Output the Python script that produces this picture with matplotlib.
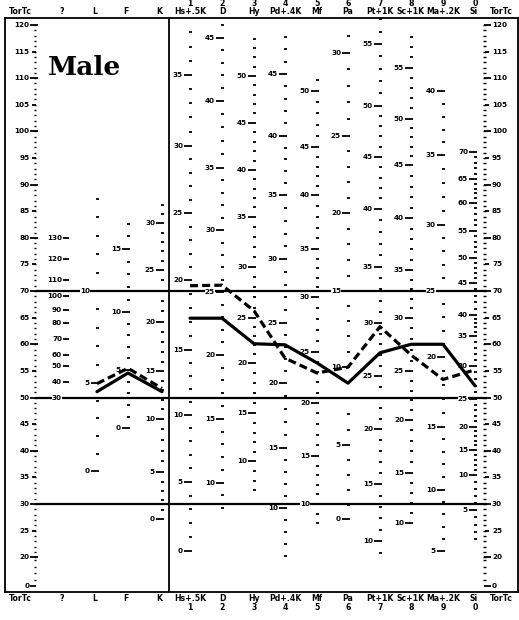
import numpy as np
import matplotlib.pyplot as plt

# scale names
validity = ["L", "F", "K"]
clinical = ["Hs+.5K", "D", "Hy", "Pd+.4K", "Mf", "Pa", "Pt+1K", "Sc+1K", "Ma+.2K", "Si"]
clinical_num = ["1", "2", "3", "4", "5", "6", "7", "8", "9", "0"]

# profile T scores
solid_validity = [51.1, 54.6, 51.1]
dashed_validity = [52.6, 55.5, 51.7]
solid_clinical = [64.9, 64.9, 60.1, 59.9, 56.5, 52.7, 58.4, 60.0, 60.0, 52.2]
dashed_clinical = [71.0, 71.1, 66.3, 57.4, 54.6, 55.7, 63.3, 58.0, 53.4, 55.2]

# raw score labels and the T score where each sits on the form
q_raw = [30, 40, 50, 60, 70, 80, 90, 100, 110, 120, 130]
q_t = [50, 53, 56, 58, 61, 64, 66.5, 69, 72, 76, 80]
l_raw = [0, 5, 10]
l_t = [36.1, 52.7, 70]
f_raw = [0, 5, 10, 15]
f_t = [44.2, 55.2, 66, 77.9]
k_raw = [0, 5, 10, 15, 20, 25, 30]
k_t = [27.1, 36, 46, 54.9, 64.2, 74, 82.7]
hs_raw = [0, 5, 10, 15, 20, 25, 30, 35]
hs_t = [21.1, 34.2, 46.8, 59, 72, 84.6, 97.3, 110.6]
d_raw = [10, 15, 20, 25, 30, 35, 40, 45]
d_t = [34, 46, 58, 69.8, 81.4, 93.2, 105.8, 117.6]
hy_raw = [10, 15, 20, 25, 30, 35, 40, 45, 50]
hy_t = [38, 47, 56.5, 65, 74.5, 84, 92.7, 101.6, 110.4]
pd_raw = [10, 15, 20, 25, 30, 35, 40, 45]
pd_t = [29.2, 40.5, 52.8, 64, 76, 88, 99.2, 110.8]
mf_raw = [10, 15, 20, 25, 30, 35, 40, 45, 50]
mf_t = [30, 39, 49, 58.6, 68.9, 77.9, 88, 97, 107.6]
pa_raw = [0, 5, 10, 15, 20, 25, 30]
pa_t = [27.1, 41, 55.8, 70, 84.6, 99.2, 114.8]
pt_raw = [10, 15, 20, 25, 30, 35, 40, 45, 50, 55]
pt_t = [23, 33.7, 44, 54, 64, 74.5, 85.5, 95.2, 104.8, 116.4]
sc_raw = [10, 15, 20, 25, 30, 35, 40, 45, 50, 55]
sc_t = [26.5, 35.9, 45.8, 54.9, 65, 73.9, 83.7, 93.6, 102.4, 112]
ma_raw = [5, 10, 15, 20, 25, 30, 35, 40]
ma_t = [21.1, 32.7, 44.5, 57.6, 70, 82.4, 95.5, 107.6]
si_raw = [5, 10, 15, 20, 25, 30, 35, 40, 45, 50, 55, 60, 65, 70]
si_t = [28.8, 35.5, 40.2, 44.5, 49.7, 56, 61.6, 65.5, 71.5, 76.3, 81.3, 86.6, 91, 96.2]

W, H = 519, 620
fig = plt.figure(figsize=(W / 100, H / 100), dpi=100)
ax = fig.add_axes([5 / W, 28 / H, 513 / W, 574 / H])
ax.set_xlim(5, 518)
ax.set_ylim(13.46, 121.3)
ax.set_xticks([])
ax.set_yticks([])
for s in ax.spines.values():
    s.set_linewidth(1.3)

FS = 5.2
lab = dict(fontsize=FS, weight="bold", family="DejaVu Sans Condensed",
           bbox=dict(facecolor="white", edgecolor="none", pad=0.2), zorder=3)

# column positions (x of tick marks)
val_x = [97, 128, 162]
cli_x = [190, 222, 254, 285, 317, 348, 380, 411, 443, 475]
q_x = 69

columns = [
    (97, l_raw, l_t, 0, 15),
    (128, f_raw, f_t, 0, 17),
    (162, k_raw, k_t, 0, 32),
    (190, hs_raw, hs_t, 0, 38),
    (222, d_raw, d_t, 8, 47),
    (254, hy_raw, hy_t, 7, 54),
    (285, pd_raw, pd_t, 6, 48),
    (317, mf_raw, mf_t, 8, 51),
    (348, pa_raw, pa_t, 0, 31),
    (380, pt_raw, pt_t, 9, 57),
    (411, sc_raw, sc_t, 10, 58),
    (443, ma_raw, ma_t, 5, 40),
    (475, si_raw, si_t, 1, 70),
]


def raw_to_t(r, raws, ts):
    raws = np.asarray(raws, float)
    ts = np.asarray(ts, float)
    out = np.interp(r, raws, ts)
    lo = (ts[1] - ts[0]) / (raws[1] - raws[0])
    hi = (ts[-1] - ts[-2]) / (raws[-1] - raws[-2])
    out = np.where(r < raws[0], ts[0] + (r - raws[0]) * lo, out)
    out = np.where(r > raws[-1], ts[-1] + (r - raws[-1]) * hi, out)
    return out


for x, raws, ts, lo, hi in columns:
    r = np.arange(lo, hi + 1)
    r = r[~np.isin(r, raws)]
    tt = raw_to_t(r, raws, ts)
    ax.hlines(tt, x - 1.5, x + 1.5, color="k", lw=1.3, zorder=2)
    for rv, tv in zip(raws, ts):
        ax.hlines(tv, x - 6, x + 1.5, color="k", lw=1.3, zorder=2)
        ax.text(x - 7, tv, str(rv), ha="right", va="center", **lab)

for rv, tv in zip(q_raw, q_t):
    ax.hlines(tv, q_x - 6, q_x, color="k", lw=1.3, zorder=2)
    ax.text(q_x - 7, tv, str(rv), ha="right", va="center", **lab)

# T score axes on both sides
t_minor = np.arange(20, 121)
ax.hlines(t_minor, 33.5, 36, color="k", lw=1.0)
ax.hlines(t_minor, 483, 485.5, color="k", lw=1.0)
ax.hlines([15.8, 17.0, 18.2, 19.4], 33.5, 36, color="k", lw=1.0)
ax.hlines([15.8, 17.0, 18.2, 19.4], 483, 485.5, color="k", lw=1.0)
t_major = list(range(20, 121, 5))
for t in t_major:
    long = t % 10 == 0
    ax.hlines(t, 30 if long else 31.5, 38 if long else 36, color="k", lw=1.3)
    ax.hlines(t, 484 if long else 485, 491 if long else 489, color="k", lw=1.3)
    ax.text(29.5, t, str(t), ha="right", va="center", **lab)
    ax.text(492, t, str(t), ha="left", va="center", **lab)
ax.hlines(14.6, 30, 36, color="k", lw=1.3)
ax.hlines(14.6, 484, 491, color="k", lw=1.3)
ax.text(29.5, 14.6, "0", ha="right", va="center", **lab)
ax.text(492, 14.6, "0", ha="left", va="center", **lab)

# reference lines and divider
ax.hlines([30, 50, 70], 36, 487, color="k", lw=1.6, zorder=1)
ax.axvline(169, color="k", lw=1.3)

# profiles
ax.plot(val_x, solid_validity, color="k", lw=2.3, zorder=5, solid_capstyle="round")
ax.plot(cli_x, solid_clinical, color="k", lw=2.3, zorder=5, solid_capstyle="round")
ax.plot(val_x, dashed_validity, color="k", lw=2.3, ls=(0, (2.5, 1.3)), zorder=5)
ax.plot(cli_x, dashed_clinical, color="k", lw=2.3, ls=(0, (2.5, 1.3)), zorder=5)

ax.text(48, 110.6, "Male", fontsize=19, weight="bold", family="DejaVu Serif",
        ha="left", va="baseline")

# column headings, top and bottom
tr = ax.get_xaxis_transform()
hd = dict(fontsize=FS + 0.4, weight="bold", family="DejaVu Sans Condensed",
          ha="center", va="center", transform=tr, clip_on=False)
head_x = [20, 62, 95, 126, 159] + cli_x[:-1] + [474, 501]
head_lab = ["TorTc", "?"] + validity + clinical + ["TorTc"]
for x, s in zip(head_x, head_lab):
    ax.text(x, 1.0105, s, **hd)
    ax.text(x, -0.011, s, **hd)
for x, n in zip(cli_x, clinical_num):
    ax.text(x, 1.026, n, **hd)
    ax.text(x, -0.027, n, **hd)

fig.savefig("out.png", dpi=100)
